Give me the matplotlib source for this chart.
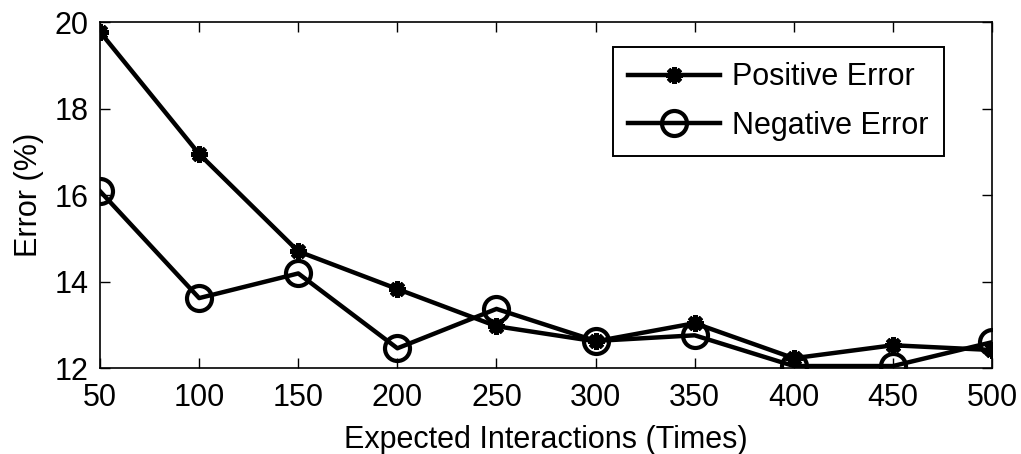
import matplotlib
matplotlib.use("Agg")
from matplotlib import pyplot as plt

interactions = [50, 100, 150, 200, 250, 300, 350, 400, 450, 500]
positive_err = [19.77, 16.95, 14.70, 13.83, 12.97, 12.62, 13.04, 12.23, 12.53, 12.42]
negative_err = [16.09, 13.62, 14.19, 12.46, 13.37, 12.63, 12.76, 12.05, 12.05, 12.60]

plt.rcParams['font.family'] = ['Liberation Sans', 'DejaVu Sans']

fig = plt.figure(figsize=(10.21, 4.54), dpi=100)
ax = fig.add_axes([0.098, 0.189, 0.8736, 0.7625])

ax.plot(interactions, positive_err, color='black', lw=3.2, marker=(8, 2, 0),
        ms=12, mew=3.5, label='Positive Error')
ax.plot(interactions, negative_err, color='black', lw=3.2, marker='o',
        ms=18, mew=3, mfc='none', label='Negative Error')

ax.set_xlim(50, 500)
ax.set_ylim(12, 20)
ax.set_xticks(interactions)
ax.set_yticks([12, 14, 16, 18, 20])
ax.tick_params(direction='in', length=7, width=1, labelsize=22, top=True, right=True)
ax.tick_params(axis='x', pad=11)
ax.tick_params(axis='y', pad=8)
for s in ax.spines.values():
    s.set_linewidth(1.2)
ax.set_xlabel('Expected Interactions (Times)', fontsize=22, labelpad=8)
ax.set_ylabel('Error (%)', fontsize=22, labelpad=8)

leg = ax.legend(loc='upper right', bbox_to_anchor=(0.946, 0.928), fontsize=22,
                fancybox=False, framealpha=1, edgecolor='black', handlelength=3.0,
                borderpad=0.5, labelspacing=0.6, handletextpad=0.4, borderaxespad=0)
leg.get_frame().set_linewidth(1.4)

fig.savefig('out.png', dpi=100)
